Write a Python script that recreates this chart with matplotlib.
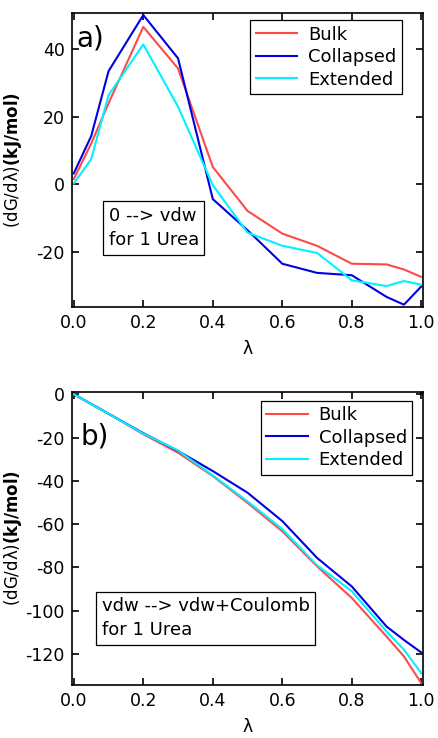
import numpy as np
import matplotlib
matplotlib.use("Agg")
import matplotlib.pyplot as plt

plt.rcParams['font.family'] = ['DejaVu Sans']
plt.rcParams['mathtext.fontset'] = 'dejavusans'
plt.rcParams['axes.unicode_minus'] = False

# panel a) 0 --> vdw
lam_a = [0.0, 0.05, 0.1, 0.2, 0.3, 0.4, 0.5, 0.6, 0.7, 0.8, 0.9, 0.95, 1.0]
bulk_a = [1.5, 12.0, 23.9, 46.5, 34.2, 5.1, -7.9, -14.6, -18.2, -23.5, -23.7, -25.2, -27.4]
coll_a = [3.2, 14.2, 33.4, 50.0, 37.2, -4.4, -13.6, -23.5, -26.2, -26.9, -33.3, -35.6, -30.2]
ext_a = [0.2, 7.4, 26.3, 41.3, 22.9, -0.3, -14.3, -18.2, -20.3, -28.4, -30.1, -28.6, -29.7]

# panel b) vdw --> vdw+Coulomb
lam_b = [0.0, 0.1, 0.2, 0.3, 0.4, 0.5, 0.6, 0.7, 0.8, 0.9, 0.95, 1.0]
bulk_b = [0.0, -9.0, -18.5, -27.0, -37.8, -50.2, -63.3, -79.5, -94.1, -111.9, -121.1, -133.5]
coll_b = [0.0, -9.0, -18.0, -26.2, -35.5, -45.5, -58.6, -75.6, -88.8, -107.3, -113.5, -119.3]
ext_b = [0.0, -9.0, -18.2, -26.0, -37.5, -49.5, -62.3, -79.0, -91.0, -109.6, -118.0, -128.8]

names = ['Bulk', 'Collapsed', 'Extended']
colors = ['#ff4a4a', '#0000e0', '#00f2ff']

fig = plt.figure(figsize=(4.38, 7.38), dpi=100)
ax1 = fig.add_axes([0.1637, 0.5844, 0.8014, 0.398])
ax2 = fig.add_axes([0.1637, 0.0718, 0.8014, 0.397])

ylab = '(dG/dλ)' + r'$\mathbf{(kJ/mol)}$'

for ax, lam, series in [(ax1, lam_a, [bulk_a, coll_a, ext_a]),
                        (ax2, lam_b, [bulk_b, coll_b, ext_b])]:
    for ys, c, n in zip(series, colors, names):
        ax.plot(lam, ys, color=c, lw=1.5, label=n)
    ax.set_xlim(-0.006, 1.004)
    ax.set_xticks([0.0, 0.2, 0.4, 0.6, 0.8, 1.0])
    ax.set_xticklabels(['0.0', '0.2', '0.4', '0.6', '0.8', '1.0'])
    ax.tick_params(direction='in', length=5, width=1.2, top=True, right=True,
                   labelsize=12.5, pad=5)
    for s in ax.spines.values():
        s.set_linewidth(1.2)
    ax.set_xlabel('λ', fontsize=12.5, labelpad=6)
    ax.set_ylabel(ylab, fontsize=12)
    ax.yaxis.set_label_coords(-0.136, 0.5)

ax1.set_ylim(-36.2, 50.6)
ax1.set_yticks([-20, 0, 20, 40])
ax2.set_ylim(-134.3, 1.0)
ax2.set_yticks([-120, -100, -80, -60, -40, -20, 0])

leg_kw = dict(fontsize=13, handlelength=2.3, fancybox=False, framealpha=1,
              edgecolor='black', borderpad=0.3, labelspacing=0.25,
              handletextpad=0.6, borderaxespad=0)
l1 = ax1.legend(loc='upper right', bbox_to_anchor=(0.94, 0.975), **leg_kw)
l1.get_frame().set_linewidth(0.9)
l2 = ax2.legend(loc='upper right', bbox_to_anchor=(0.97, 0.97), **leg_kw)
l2.get_frame().set_linewidth(0.9)

ax1.text(0.014, 0.96, 'a)', transform=ax1.transAxes, fontsize=20, va='top', ha='left')
ax2.text(0.024, 0.895, 'b)', transform=ax2.transAxes, fontsize=20, va='top', ha='left')

box = dict(boxstyle='square,pad=0.3', fc='white', ec='black', lw=0.9)
ax1.text(0.105, 0.34, '0 --> vdw\nfor 1 Urea', transform=ax1.transAxes,
         fontsize=13, va='top', ha='left', bbox=box, linespacing=1.45)
ax2.text(0.085, 0.3, 'vdw --> vdw+Coulomb\nfor 1 Urea', transform=ax2.transAxes,
         fontsize=13, va='top', ha='left', bbox=box, linespacing=1.45)

fig.savefig('out.png', dpi=100)
